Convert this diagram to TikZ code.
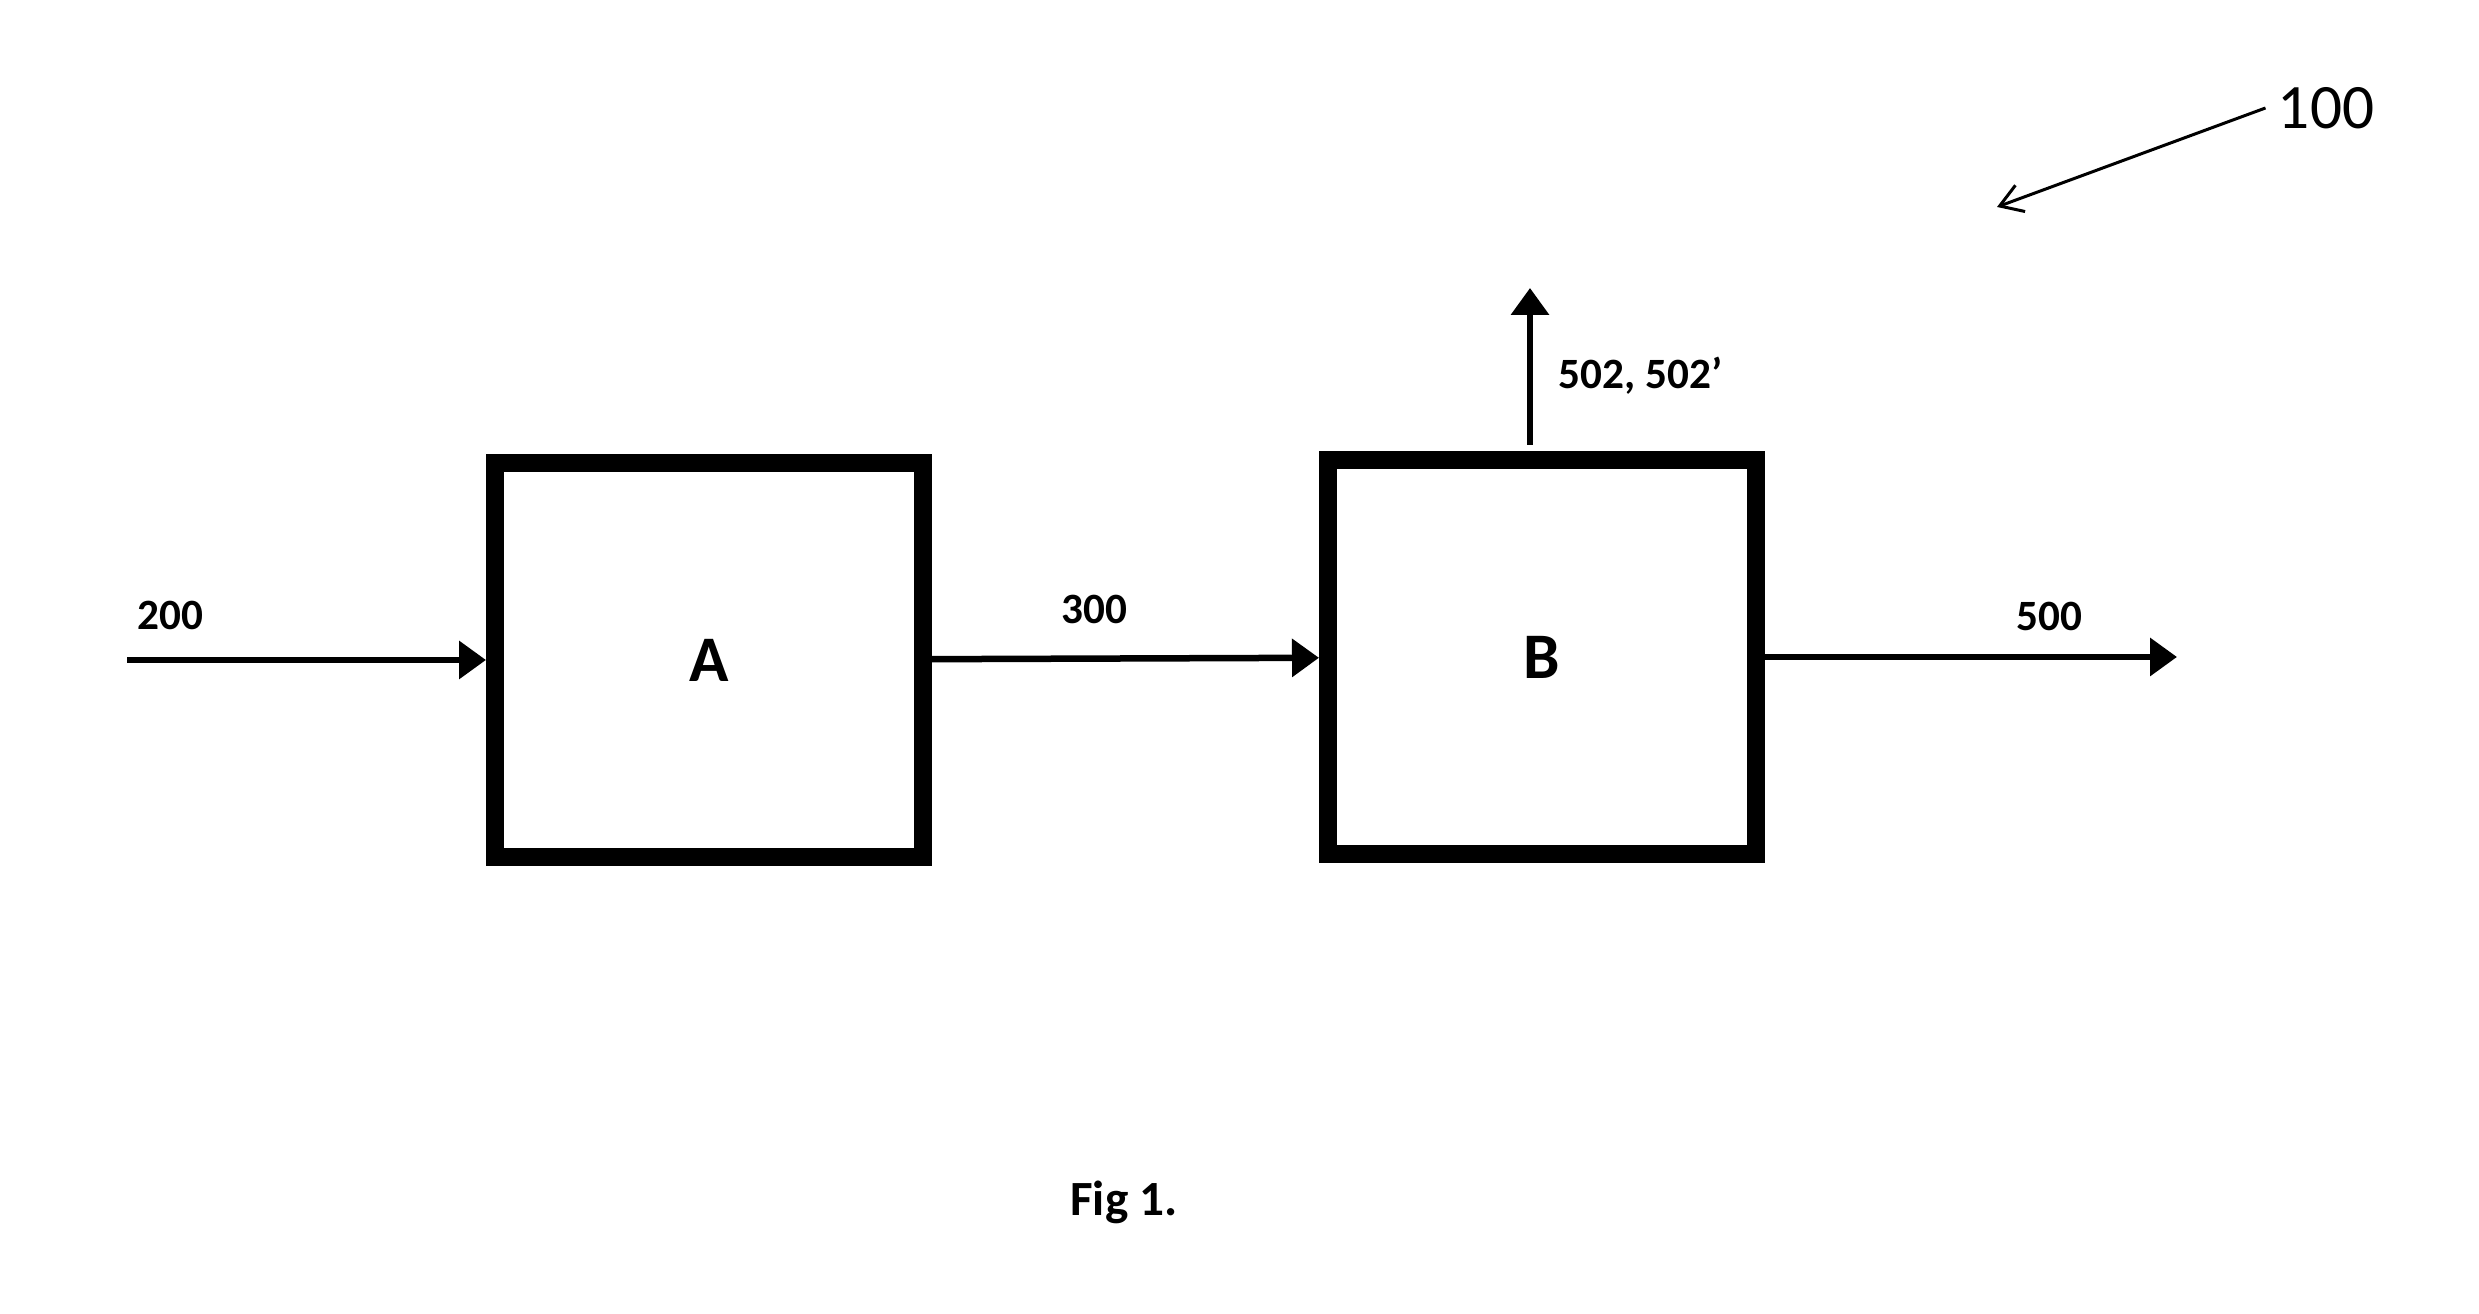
\documentclass[tikz,border=0pt]{standalone}
\usepackage{fontspec}
\setmainfont{Carlito}
\usetikzlibrary{positioning, arrows.meta}

\begin{document}
\begin{tikzpicture}[
  unit/.style={draw, line width=0.18cm, minimum width=4.28cm, minimum height=3.94cm, font=\fontsize{18.5}{22}\selectfont\bfseries},
  lbl/.style={font=\fontsize{12.3}{15}\selectfont\bfseries},
  arr/.style={-{Triangle[length=0.27cm, width=0.37cm]}, line width=0.065cm},
  ptr/.style={-{Straight Barb[length=0.22cm, width=0.28cm]}, line width=0.03cm}
]
  \useasboundingbox (0,0) rectangle (24.79,13.14);

  \node[unit] (A) at (7.09,6.54) {A};
  \node[unit, right=3.87 of A, yshift=0.03cm] (B) {B};

  \coordinate[left=3.59 of A] (in200);
  \coordinate[right=4.12 of B] (out500);
  \coordinate[above=1.63 of B, xshift=-0.12cm] (top502);

  \draw[arr] (in200) -- node[lbl, pos=0.12, above=0.15] (l200) {200} (A.west);
  \draw[arr] (A) -- node[lbl, pos=0.42, above=0.2] (l300) {300} (B);
  \draw[arr] (B) -- node[lbl, pos=0.69, above=0.11] (l500) {500} (out500);
  \draw[arr] ([yshift=0.06cm]top502 |- B.north) -- node[lbl, pos=0.44, right=0.14] (l502) {502, 502’} (top502);

  \node[font=\fontsize{18}{22}\selectfont] (ref) at (23.26,12.06) {100};
  \coordinate (ptr100) at (19.97,11.07);
  \draw[ptr] (ref.west) -- (ptr100);

  \node[font=\fontsize{14}{17}\selectfont\bfseries] (cap) at (11.24,1.12) {Fig 1.};
\end{tikzpicture}
\end{document}
